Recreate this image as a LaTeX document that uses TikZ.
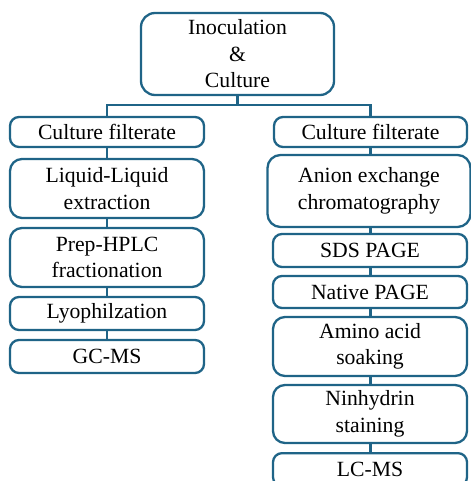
\documentclass[tikz,border=0pt]{standalone}
\usepackage{fontspec}
\setmainfont{Liberation Serif}
\definecolor{boxblue}{RGB}{31,100,135}
\begin{document}
\begin{tikzpicture}[x=1bp,y=-1bp,
  box/.style={draw=boxblue, line width=2.3bp, rounded corners=9bp, align=center,
    inner sep=0pt, font=\fontsize{21.7bp}{26.5bp}\selectfont, fill=white},
  link/.style={draw=boxblue, line width=2.3bp}]
\clip (0,0) rectangle (471,481);
\node[box, rounded corners=14bp, minimum width=193bp, minimum height=82bp] (top) at (237.5,54) {Inoculation\\\&\\Culture};
\node[box, minimum width=194bp, minimum height=30bp] (cfL) at (107,132) {Culture filterate};
\node[box, minimum width=193bp, minimum height=30bp] (cfR) at (370.5,132) {Culture filterate};
\node[box, rounded corners=12bp, minimum width=194bp, minimum height=59bp] (ll) at (107,188.5) {Liquid-Liquid\\extraction};
\node[box, rounded corners=12bp, minimum width=194bp, minimum height=59bp] (hplc) at (107,257.5) {Prep-HPLC\\fractionation};
\node[box, minimum width=194bp, minimum height=33bp] (lyo) at (107,313.5) {Lyophilzation};
\node[box, minimum width=194bp, minimum height=33bp] (gc) at (107,356.5) {GC-MS};
\node[box, rounded corners=13bp, minimum width=203bp, minimum height=72bp] (anion) at (369,191) {Anion exchange\\chromatography};
\node[box, minimum width=194bp, minimum height=33bp] (sds) at (370,250.5) {SDS PAGE};
\node[box, minimum width=194bp, minimum height=32bp] (native) at (370,292) {Native PAGE};
\node[box, rounded corners=12bp, minimum width=194bp, minimum height=59bp] (amino) at (370,346.5) {Amino acid\\soaking};
\node[box, rounded corners=12bp, minimum width=194bp, minimum height=58bp] (nin) at (370,414) {Ninhydrin\\staining};
\node[box, minimum width=194bp, minimum height=33bp, anchor=north] (lc) at (370,452) {LC-MS};
\coordinate (split) at (237.5,105);
\draw[link] (top.south) -- (split) -| (cfL.north);
\draw[link] (split) -| (cfR.north);
\draw[link] (cfL.south) -- (ll.north);
\draw[link] (ll.south) -- (hplc.north);
\draw[link] (hplc.south) -- (lyo.north);
\draw[link] (lyo.south) -- (gc.north);
\draw[link] (cfR.south) -- (cfR.south |- anion.north);
\draw[link] (cfR.south |- anion.south) -- (cfR.south |- sds.north);
\draw[link] (cfR.south |- sds.south) -- (cfR.south |- native.north);
\draw[link] (cfR.south |- native.south) -- (cfR.south |- amino.north);
\draw[link] (cfR.south |- amino.south) -- (cfR.south |- nin.north);
\draw[link] (cfR.south |- nin.south) -- (cfR.south |- lc.north);
\end{tikzpicture}
\end{document}
